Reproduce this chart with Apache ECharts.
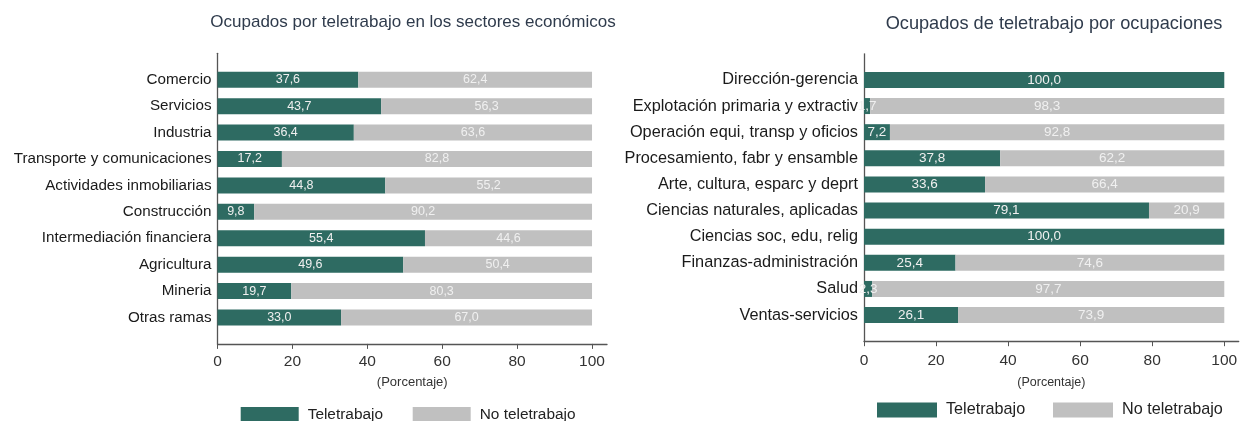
<!DOCTYPE html>
<html>
<head>
	<meta charset="utf-8">
	<title>Ocupados por teletrabajo</title>
	<script src="https://cdn.jsdelivr.net/npm/echarts@6/dist/echarts.min.js"></script>
	<style>
		html, body { margin: 0; padding: 0; background: #fff; }
		#main { width: 1241px; height: 421px; }
	</style>
</head>
<body>
<div id="main"></div>
<script>
	// Sectores económicos (gráfico izquierdo)
	var sectores = ['Comercio', 'Servicios', 'Industria', 'Transporte y comunicaciones',
		'Actividades inmobiliarias', 'Construcción', 'Intermediación financiera',
		'Agricultura', 'Mineria', 'Otras ramas'];
	var sectTele = [37.6, 43.7, 36.4, 17.2, 44.8, 9.8, 55.4, 49.6, 19.7, 33.0];
	var sectNoTele = [62.4, 56.3, 63.6, 82.8, 55.2, 90.2, 44.6, 50.4, 80.3, 67.0];

	// Ocupaciones (gráfico derecho)
	var ocupaciones = ['Dirección-gerencia', 'Explotación primaria y extractiv',
		'Operación equi, transp y oficios', 'Procesamiento, fabr y ensamble',
		'Arte, cultura, esparc y deprt', 'Ciencias naturales, aplicadas',
		'Ciencias soc, edu, relig', 'Finanzas-administración', 'Salud', 'Ventas-servicios'];
	var ocupTele = [100.0, 1.7, 7.2, 37.8, 33.6, 79.1, 100.0, 25.4, 2.3, 26.1];
	var ocupNoTele = [0, 98.3, 92.8, 62.2, 66.4, 20.9, 0, 74.6, 97.7, 73.9];

	var xTicks = [0, 20, 40, 60, 80, 100];

	var TEAL = '#2e6b62';
	var GRAY = '#c0c0c0';
	var FONT = '"Liberation Sans", Arial, sans-serif';

	// una categoría vacía arriba y abajo deja el margen del eje
	function pad(arr, blank) {
		return [blank].concat(arr, [blank]);
	}
	function fmt(v) {
		return v.toFixed(1).replace('.', ',');
	}

	function barSeries(name, data, color, stack, axisIdx, size) {
		return {
			name: name,
			type: 'bar',
			stack: stack,
			xAxisIndex: axisIdx,
			yAxisIndex: axisIdx,
			barWidth: 16,
			data: pad(data, null),
			itemStyle: { color: color },
			label: {
				show: true,
				position: 'inside',
				color: '#f0f0f0',
				fontFamily: FONT,
				fontSize: size,
				formatter: function (p) { return p.value ? fmt(p.value) : ''; }
			},
			emphasis: { disabled: true }
		};
	}

	function xAxis(idx, labelSize, margin, nameSize, nameGap) {
		return {
			type: 'value', gridIndex: idx, min: 0, max: 104,
			axisLine: { show: true, lineStyle: { color: '#555', width: 1.3 } },
			axisTick: { show: true, length: 5, customValues: xTicks, lineStyle: { color: '#555' } },
			axisLabel: { customValues: xTicks, color: '#333', fontFamily: FONT, fontSize: labelSize, margin: margin },
			splitLine: { show: false },
			name: '(Porcentaje)', nameLocation: 'middle', nameGap: nameGap,
			nameTextStyle: { color: '#333', fontFamily: FONT, fontSize: nameSize }
		};
	}

	function yAxis(idx, cats, size) {
		return {
			type: 'category', gridIndex: idx, inverse: true, boundaryGap: false,
			data: pad(cats, ''),
			axisLine: { show: true, lineStyle: { color: '#555', width: 1.3 } },
			axisTick: { show: false },
			axisLabel: { color: '#1a1a1a', fontFamily: FONT, fontSize: size, margin: 6, interval: 0 }
		};
	}

	function legendItem(name, left, top, w, size) {
		return {
			data: [name], left: left, top: top, orient: 'horizontal', padding: 0,
			itemWidth: w, itemHeight: 15, icon: 'rect', selectedMode: false,
			textStyle: { color: '#222', fontFamily: FONT, fontSize: size, padding: [0, 0, 0, 4] }
		};
	}

	var chart = echarts.init(document.getElementById('main'));
	chart.setOption({
		animation: false,
		graphic: [
			{ type: 'text', x: 413, y: 22, style: { text: 'Ocupados por teletrabajo en los sectores económicos',
				fill: '#2f3b4c', font: '17px ' + FONT, textAlign: 'center', textVerticalAlign: 'middle' } },
			{ type: 'text', x: 1054, y: 24, style: { text: 'Ocupados de teletrabajo por ocupaciones',
				fill: '#2f3b4c', font: '18.2px ' + FONT, textAlign: 'center', textVerticalAlign: 'middle' } }
		],
		grid: [
			{ left: 217.5, top: 53.3, width: 389.5, height: 290.6, containLabel: false },
			{ left: 864, top: 53.8, width: 374.7, height: 287.4, containLabel: false }
		],
		xAxis: [xAxis(0, 15.5, 10, 13, 32), xAxis(1, 15.5, 12, 12.5, 35)],
		yAxis: [yAxis(0, sectores, 15.2), yAxis(1, ocupaciones, 16.3)],
		legend: [
			legendItem('Teletrabajo', 240.7, 407, 58, 15.4),
			legendItem('No teletrabajo', 412.7, 407, 58, 15.4),
			legendItem('Teletrabajo', 877, 402, 60, 16.2),
			legendItem('No teletrabajo', 1053, 402, 60, 16.2)
		],
		series: [
			barSeries('Teletrabajo', sectTele, TEAL, 'izq', 0, 12.5),
			barSeries('No teletrabajo', sectNoTele, GRAY, 'izq', 0, 12.5),
			barSeries('Teletrabajo', ocupTele, TEAL, 'der', 1, 13.5),
			barSeries('No teletrabajo', ocupNoTele, GRAY, 'der', 1, 13.5)
		]
	});
</script>
</body>
</html>
